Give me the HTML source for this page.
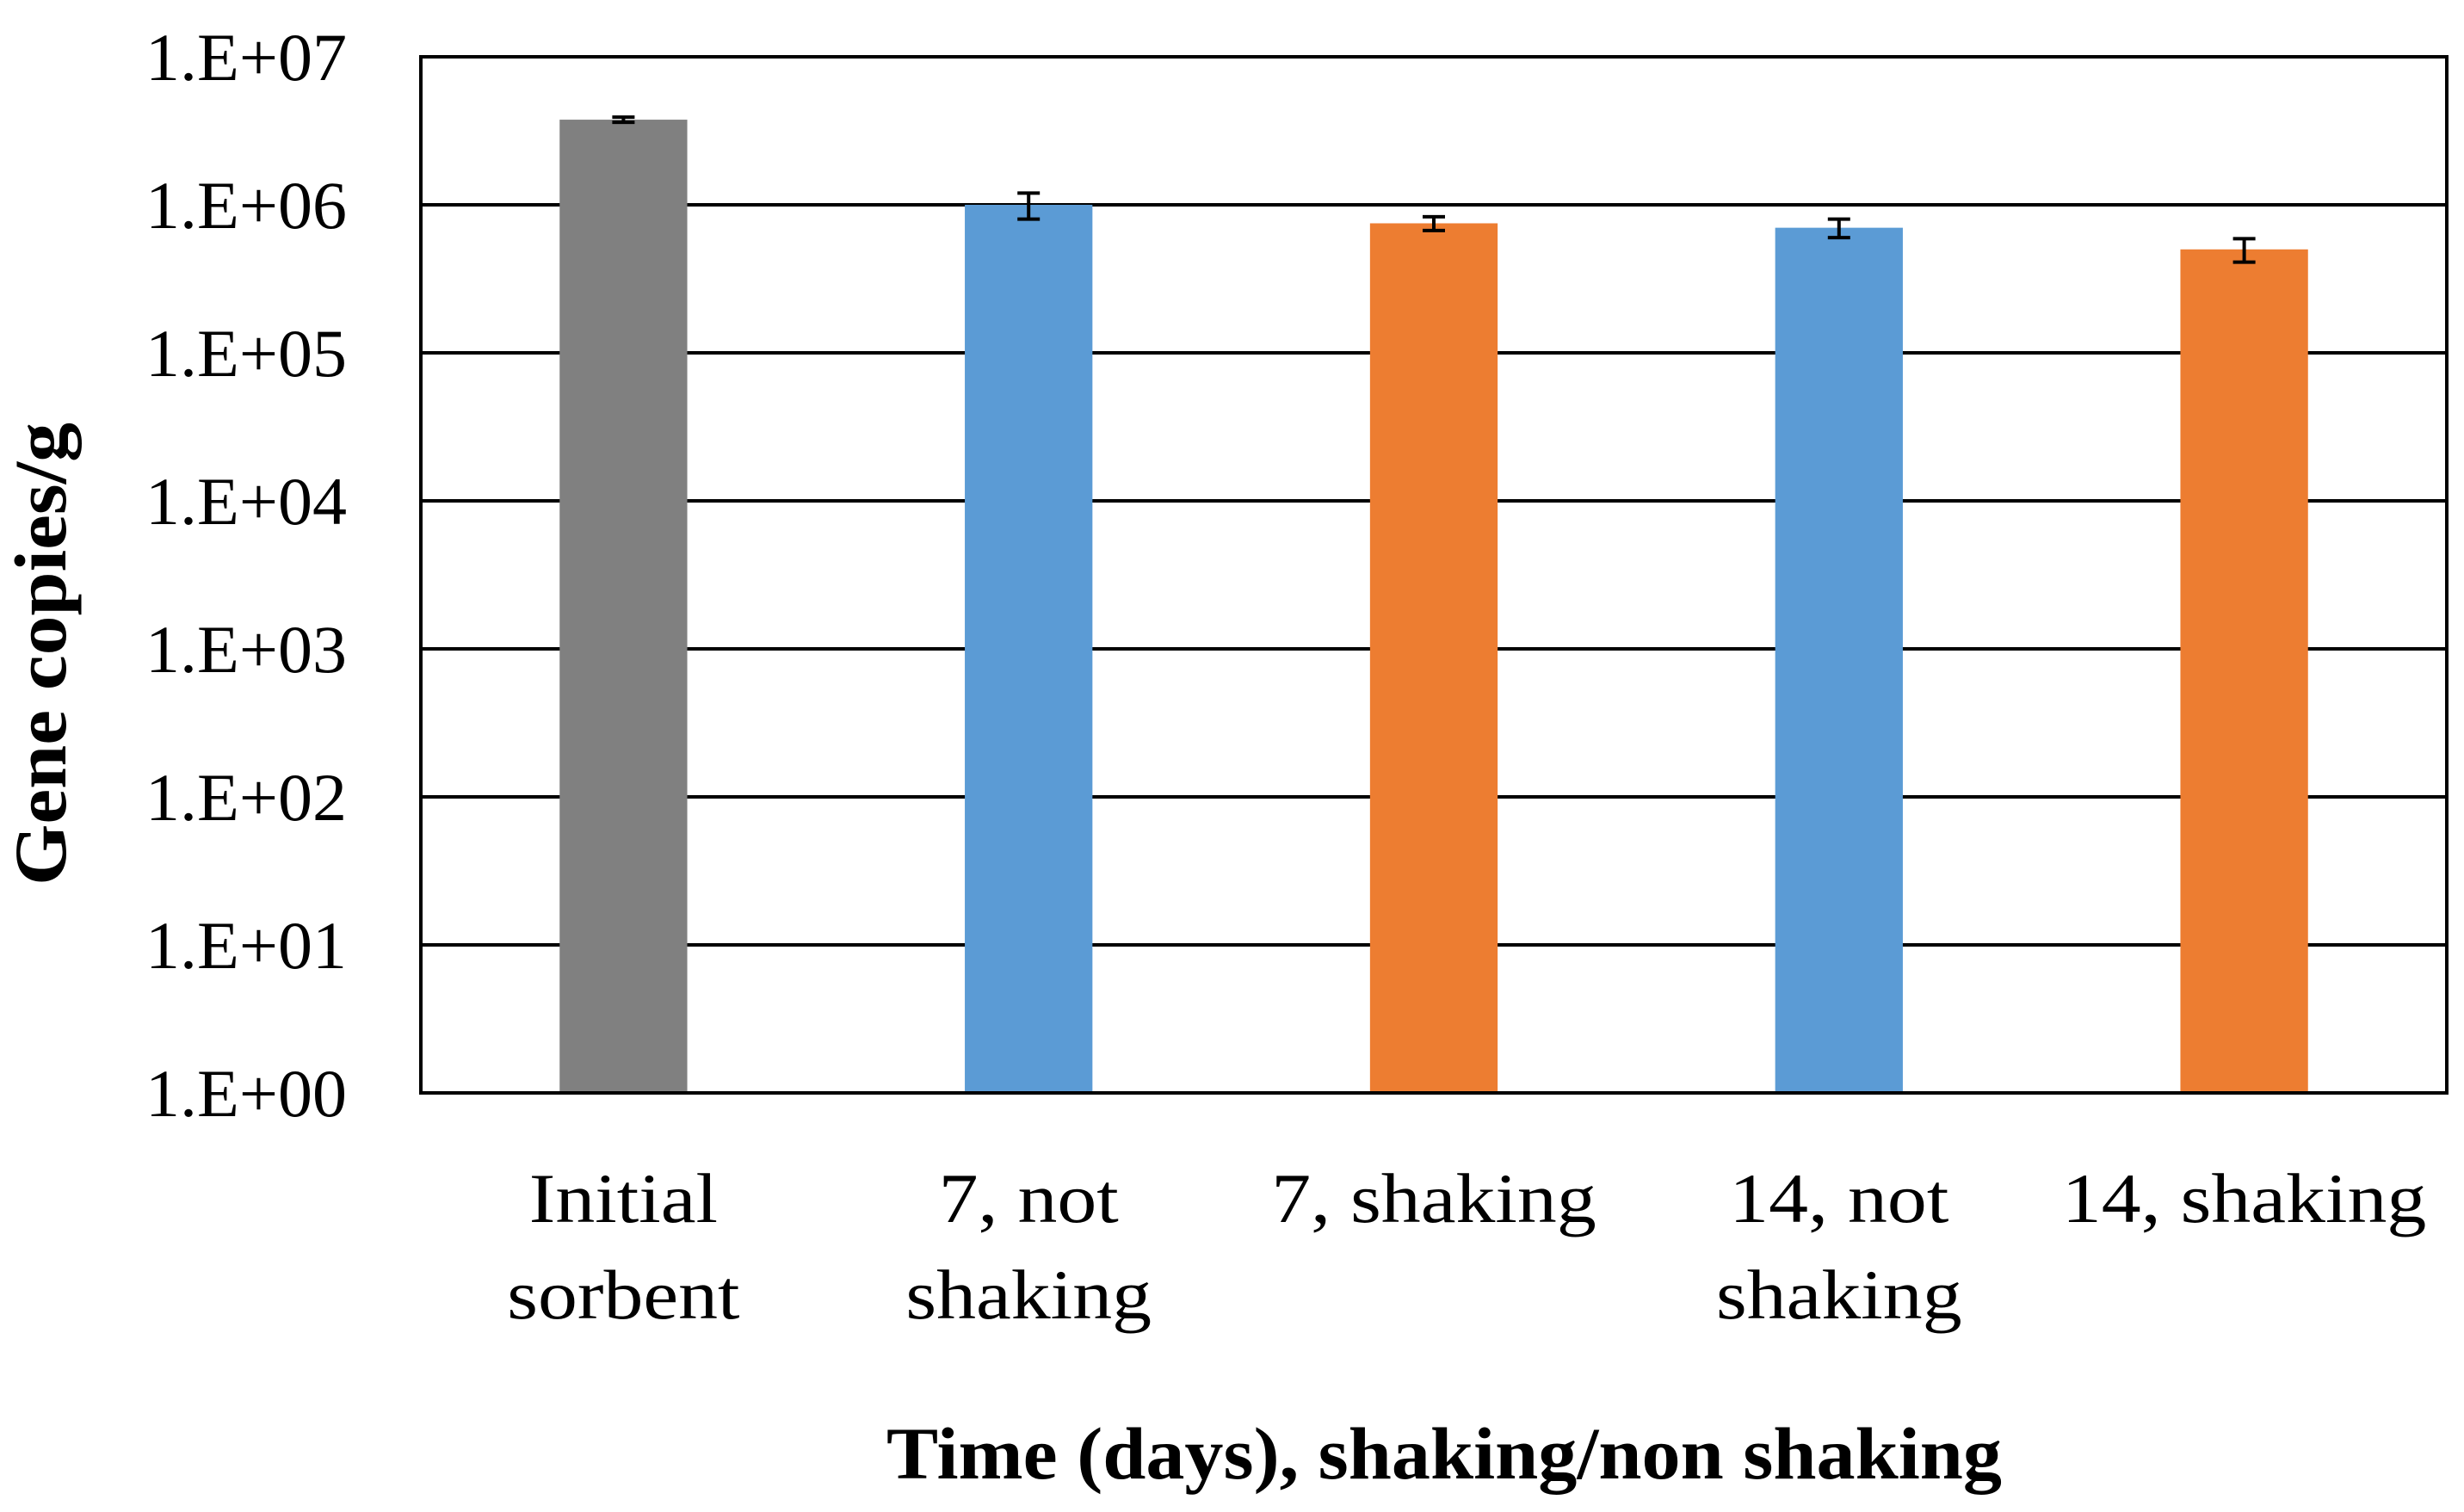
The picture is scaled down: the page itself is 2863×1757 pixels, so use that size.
<!DOCTYPE html>
<html><head><meta charset="utf-8"><style>
html,body{margin:0;padding:0;background:#fff}
svg{display:block}
text{font-family:"Liberation Serif",serif;fill:#000}
</style></head><body>
<svg id="chart" width="2863" height="1757" viewBox="0 0 2863 1757" xmlns="http://www.w3.org/2000/svg">
<g id="grid"></g>
<g id="bars"></g>
<g id="errs"></g>
<g id="yticks"></g>
<g id="xticks"></g>
<rect x="489" y="66" width="2354" height="1204" fill="none" stroke="#000" stroke-width="4"/>
<text x="1678" y="1718" font-size="86" font-weight="bold" text-anchor="middle" textLength="1296" lengthAdjust="spacingAndGlyphs">Time (days), shaking/non shaking</text>
<text transform="translate(76,760) rotate(-90)" font-size="86" font-weight="bold" text-anchor="middle" textLength="538" lengthAdjust="spacingAndGlyphs">Gene copies/g</text>
</svg>
<script>
const categories = [["Initial","sorbent"],["7, not","shaking"],["7, shaking"],["14, not","shaking"],["14, shaking"]];
const values = [3.76e6, 1.0e6, 7.5e5, 7.0e5, 5.0e5];
const errors = [0.15e6, 0.2e6, 0.08e6, 0.1e6, 0.09e6];
const colors = ["#808080","#5b9bd5","#ed7d31","#5b9bd5","#ed7d31"];
const tickExps = [0,1,2,3,4,5,6,7];
const tickLabels = ["1.E+00","1.E+01","1.E+02","1.E+03","1.E+04","1.E+05","1.E+06","1.E+07"];

const NS="http://www.w3.org/2000/svg";
const L=489,R=2843,T=66,B=1270,minE=0,maxE=7;
const y=v=>B-(Math.log10(v)-minE)/(maxE-minE)*(B-T);
const cw=(R-L)/categories.length;
const xc=i=>L+cw*(i+0.5);
const bw=cw*0.315;
function mk(tag,attrs,parent){const e=document.createElementNS(NS,tag);for(const k in attrs)e.setAttribute(k,attrs[k]);parent.appendChild(e);return e;}
const grid=document.getElementById('grid'),bars=document.getElementById('bars'),errs=document.getElementById('errs'),yt=document.getElementById('yticks'),xt=document.getElementById('xticks');
tickExps.forEach((e,i)=>{
  const yy=y(Math.pow(10,e));
  const g=mk('line',{x1:L,x2:R,y1:yy,y2:yy,stroke:'#000','stroke-width':4},grid);
  
  
  const t=mk('text',{x:403,y:yy+27,'font-size':78,'text-anchor':'end',textLength:234,lengthAdjust:'spacingAndGlyphs'},yt);
  t.textContent=tickLabels[i];
  
  
});
values.forEach((v,i)=>{
  const top=y(v);
  const r=mk('rect',{x:xc(i)-bw/2,y:top,width:bw,height:B-top,fill:colors[i]},bars);
  
  
  const y1=y(v+errors[i]),y2=y(v-errors[i]),cx=xc(i);
  const eg=mk('g',{stroke:'#000','stroke-width':4},errs);
  
  
  mk('line',{x1:cx,x2:cx,y1:y1,y2:y2},eg);
  mk('line',{x1:cx-13,x2:cx+13,y1:y1,y2:y1},eg);
  mk('line',{x1:cx-13,x2:cx+13,y1:y2,y2:y2},eg);
  categories[i].forEach((line,j)=>{
    const t=mk('text',{x:cx,y:1420+j*112,'font-size':82,'text-anchor':'middle'},xt);
    t.textContent=line;
    t.setAttribute('transform',`translate(${cx},0) scale(1.12,1) translate(${-cx},0)`);
    
    
  });
});
</script>
</body></html>
